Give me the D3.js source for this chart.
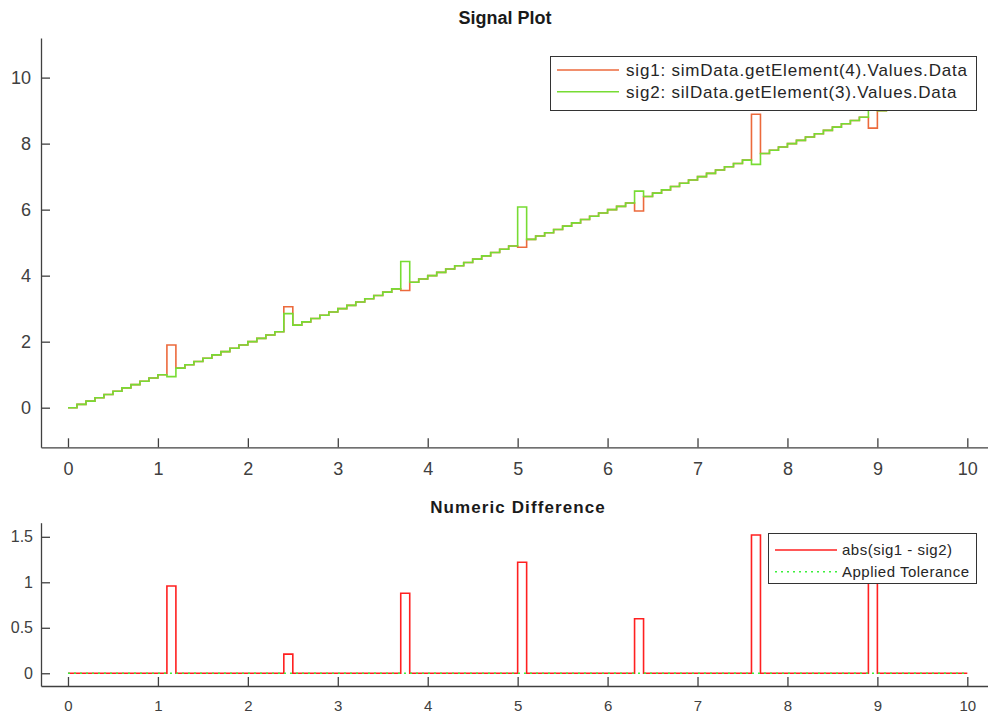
<!DOCTYPE html>
<html lang="en">
<head>
    <meta charset="UTF-8">
    <title>Signal Plot</title>
    <script src="https://d3js.org/d3.v7.min.js"></script>
    <style>
        body { margin: 0; background: #fff; }
        svg { font-family: "Liberation Sans", Arial, Helvetica, sans-serif; }
        .axis path, .axis line { stroke: #404040; stroke-width: 1.3; }
        .axis text { fill: #404040; }
    </style>
</head>
<body>
    <div id="chart"></div>
    <script>
        // sample times (s)
        var time = [
            0, 0.1, 0.2, 0.3, 0.4, 0.5, 0.6, 0.7, 0.8, 0.9,
            1.0, 1.1, 1.2, 1.3, 1.4, 1.5, 1.6, 1.7, 1.8, 1.9,
            2.0, 2.1, 2.2, 2.3, 2.4, 2.5, 2.6, 2.7, 2.8, 2.9,
            3.0, 3.1, 3.2, 3.3, 3.4, 3.5, 3.6, 3.7, 3.8, 3.9,
            4.0, 4.1, 4.2, 4.3, 4.4, 4.5, 4.6, 4.7, 4.8, 4.9,
            5.0, 5.1, 5.2, 5.3, 5.4, 5.5, 5.6, 5.7, 5.8, 5.9,
            6.0, 6.1, 6.2, 6.3, 6.4, 6.5, 6.6, 6.7, 6.8, 6.9,
            7.0, 7.1, 7.2, 7.3, 7.4, 7.5, 7.6, 7.7, 7.8, 7.9,
            8.0, 8.1, 8.2, 8.3, 8.4, 8.5, 8.6, 8.7, 8.8, 8.9,
            9.0, 9.1, 9.2, 9.3, 9.4, 9.5, 9.6, 9.7, 9.8, 9.9,
            10.0
        ];

        // sig1: simData.getElement(4).Values.Data
        var sig1 = [
            0, 0.1, 0.2, 0.3, 0.4, 0.5, 0.6, 0.7, 0.8, 0.9,
            1.0, 1.90, 1.2, 1.3, 1.4, 1.5, 1.6, 1.7, 1.8, 1.9,
            2.0, 2.1, 2.2, 2.3, 3.06, 2.5, 2.6, 2.7, 2.8, 2.9,
            3.0, 3.1, 3.2, 3.3, 3.4, 3.5, 3.6, 3.55, 3.8, 3.9,
            4.0, 4.1, 4.2, 4.3, 4.4, 4.5, 4.6, 4.7, 4.8, 4.9,
            4.86, 5.1, 5.2, 5.3, 5.4, 5.5, 5.6, 5.7, 5.8, 5.9,
            6.0, 6.1, 6.2, 5.96, 6.4, 6.5, 6.6, 6.7, 6.8, 6.9,
            7.0, 7.1, 7.2, 7.3, 7.4, 7.5, 8.89, 7.7, 7.8, 7.9,
            8.0, 8.1, 8.2, 8.3, 8.4, 8.5, 8.6, 8.7, 8.8, 8.47,
            9.0, 9.1, 9.2, 9.3, 9.4, 9.5, 9.6, 9.7, 9.8, 9.9,
            10.0
        ];

        // sig2: silData.getElement(3).Values.Data
        var sig2 = [
            0, 0.1, 0.2, 0.3, 0.4, 0.5, 0.6, 0.7, 0.8, 0.9,
            1.0, 0.94, 1.2, 1.3, 1.4, 1.5, 1.6, 1.7, 1.8, 1.9,
            2.0, 2.1, 2.2, 2.3, 2.85, 2.5, 2.6, 2.7, 2.8, 2.9,
            3.0, 3.1, 3.2, 3.3, 3.4, 3.5, 3.6, 4.43, 3.8, 3.9,
            4.0, 4.1, 4.2, 4.3, 4.4, 4.5, 4.6, 4.7, 4.8, 4.9,
            6.08, 5.1, 5.2, 5.3, 5.4, 5.5, 5.6, 5.7, 5.8, 5.9,
            6.0, 6.1, 6.2, 6.56, 6.4, 6.5, 6.6, 6.7, 6.8, 6.9,
            7.0, 7.1, 7.2, 7.3, 7.4, 7.5, 7.37, 7.7, 7.8, 7.9,
            8.0, 8.1, 8.2, 8.3, 8.4, 8.5, 8.6, 8.7, 8.8, 9.60,
            9.0, 9.1, 9.2, 9.3, 9.4, 9.5, 9.6, 9.7, 9.8, 9.9,
            10.0
        ];

        // applied tolerance (constant zero)
        var tolTime = [0, 10];
        var tolValue = [0, 0];

        var xTicks = [0, 1, 2, 3, 4, 5, 6, 7, 8, 9, 10];
        var yTicksTop = [0, 2, 4, 6, 8, 10];
        var yTicksBottom = [0, 0.5, 1, 1.5];

        var legendTop = ["sig1: simData.getElement(4).Values.Data", "sig2: silData.getElement(3).Values.Data"];
        var legendBottom = ["abs(sig1 - sig2)", "Applied Tolerance"];

        var sig1Color = "#ec6a3c";
        var sig2Color = "#77dc33";
        var diffColor = "#ff2020";
        var tolColor = "#3cf03c";

        var width = 988;
        var height = 714;

        var diff = sig1.map((d, i) => Math.abs(d - sig2[i]));

        var svg = d3.select('#chart').append('svg')
            .attr('width', width)
            .attr('height', height)
            .style('background', '#fff');

        var x = d3.scaleLinear()
            .domain([-0.3, 10.23])
            .range([41, 988]);

        var yTop = d3.scaleLinear()
            .domain([-1.2, 11.2])
            .range([447.3, 38]);

        var yBot = d3.scaleLinear()
            .domain([-0.14, 1.655])
            .range([686, 522.7]);

        // ---------- top: Signal Plot ----------
        var gx1 = svg.append('g')
            .attr('class', 'axis')
            .attr('transform', 'translate(0,447.3)')
            .call(d3.axisBottom(x).tickValues(xTicks).tickSizeInner(-9).tickSizeOuter(0).tickPadding(15));
        gx1.selectAll('text').style('font-size', '18px');

        var gy1 = svg.append('g')
            .attr('class', 'axis')
            .attr('transform', 'translate(41,0)')
            .call(d3.axisLeft(yTop).tickValues(yTicksTop).tickSizeInner(-9).tickSizeOuter(0).tickPadding(10));
        gy1.selectAll('text').style('font-size', '18px');

        var stairs = (ys, yScale) => d3.line()
            .x((d, i) => x(time[i]))
            .y(d => yScale(d))
            .curve(d3.curveStepAfter)(ys);

        svg.append('path')
            .attr('d', stairs(sig1, yTop))
            .attr('fill', 'none')
            .attr('stroke', sig1Color)
            .attr('stroke-width', 1.6);

        svg.append('path')
            .attr('d', stairs(sig2, yTop))
            .attr('fill', 'none')
            .attr('stroke', sig2Color)
            .attr('stroke-width', 1.6);

        svg.append('text')
            .attr('x', 505)
            .attr('y', 24)
            .attr('text-anchor', 'middle')
            .style('font-size', '18px')
            .style('font-weight', 'bold')
            .attr('fill', '#1a1a1a')
            .text('Signal Plot');

        // legend top
        var lg1 = svg.append('g');
        lg1.append('rect')
            .attr('x', 550.5).attr('y', 56.5)
            .attr('width', 426).attr('height', 54)
            .attr('fill', '#fff').attr('stroke', '#333').attr('stroke-width', 1);
        lg1.selectAll('line')
            .data([sig1Color, sig2Color])
            .enter().append('line')
            .attr('x1', 557).attr('x2', 619)
            .attr('y1', (d, i) => 70 + i * 21.7).attr('y2', (d, i) => 70 + i * 21.7)
            .attr('stroke', d => d).attr('stroke-width', 1.6);
        lg1.selectAll('text')
            .data(legendTop)
            .enter().append('text')
            .attr('x', 626)
            .attr('y', (d, i) => 70 + i * 21.7)
            .attr('dy', '0.35em')
            .style('font-size', '17px')
            .style('letter-spacing', '0.8px')
            .attr('fill', '#262626')
            .text(d => d);

        // ---------- bottom: Numeric Difference ----------
        var gx2 = svg.append('g')
            .attr('class', 'axis')
            .attr('transform', 'translate(0,686)')
            .call(d3.axisBottom(x).tickValues(xTicks).tickSizeInner(-9).tickSizeOuter(0).tickPadding(14));
        gx2.selectAll('text').style('font-size', '15px');

        var gy2 = svg.append('g')
            .attr('class', 'axis')
            .attr('transform', 'translate(41,0)')
            .call(d3.axisLeft(yBot).tickValues(yTicksBottom).tickSizeInner(-9).tickSizeOuter(0).tickPadding(8)
                .tickFormat(d3.format('~g')));
        gy2.selectAll('text').style('font-size', '16px');

        svg.append('path')
            .attr('d', d3.line().x((d, i) => x(time[i])).y(d => yBot(d)).curve(d3.curveStepAfter)(diff))
            .attr('fill', 'none')
            .attr('stroke', diffColor)
            .attr('stroke-width', 1.6);

        svg.append('path')
            .attr('d', d3.line().x((d, i) => x(tolTime[i])).y(d => yBot(d))(tolValue))
            .attr('fill', 'none')
            .attr('stroke', tolColor)
            .attr('stroke-width', 1.4)
            .attr('stroke-dasharray', '2,4');

        svg.append('text')
            .attr('x', 518)
            .attr('y', 513)
            .attr('text-anchor', 'middle')
            .style('font-size', '17px')
            .style('font-weight', 'bold')
            .style('letter-spacing', '1.1px')
            .attr('fill', '#1a1a1a')
            .text('Numeric Difference');

        // legend bottom
        var lg2 = svg.append('g');
        lg2.append('rect')
            .attr('x', 768.5).attr('y', 533.5)
            .attr('width', 208).attr('height', 50)
            .attr('fill', '#fff').attr('stroke', '#333').attr('stroke-width', 1);
        lg2.append('line')
            .attr('x1', 775).attr('x2', 837).attr('y1', 550).attr('y2', 550)
            .attr('stroke', diffColor).attr('stroke-width', 1.6);
        lg2.append('line')
            .attr('x1', 775).attr('x2', 837).attr('y1', 571.7).attr('y2', 571.7)
            .attr('stroke', tolColor).attr('stroke-width', 1.4).attr('stroke-dasharray', '2,4');
        lg2.selectAll('text')
            .data(legendBottom)
            .enter().append('text')
            .attr('x', 842)
            .attr('y', (d, i) => 550 + i * 21.7)
            .attr('dy', '0.35em')
            .style('font-size', '15px')
            .style('letter-spacing', '0.5px')
            .attr('fill', '#262626')
            .text(d => d);
    </script>
</body>
</html>
